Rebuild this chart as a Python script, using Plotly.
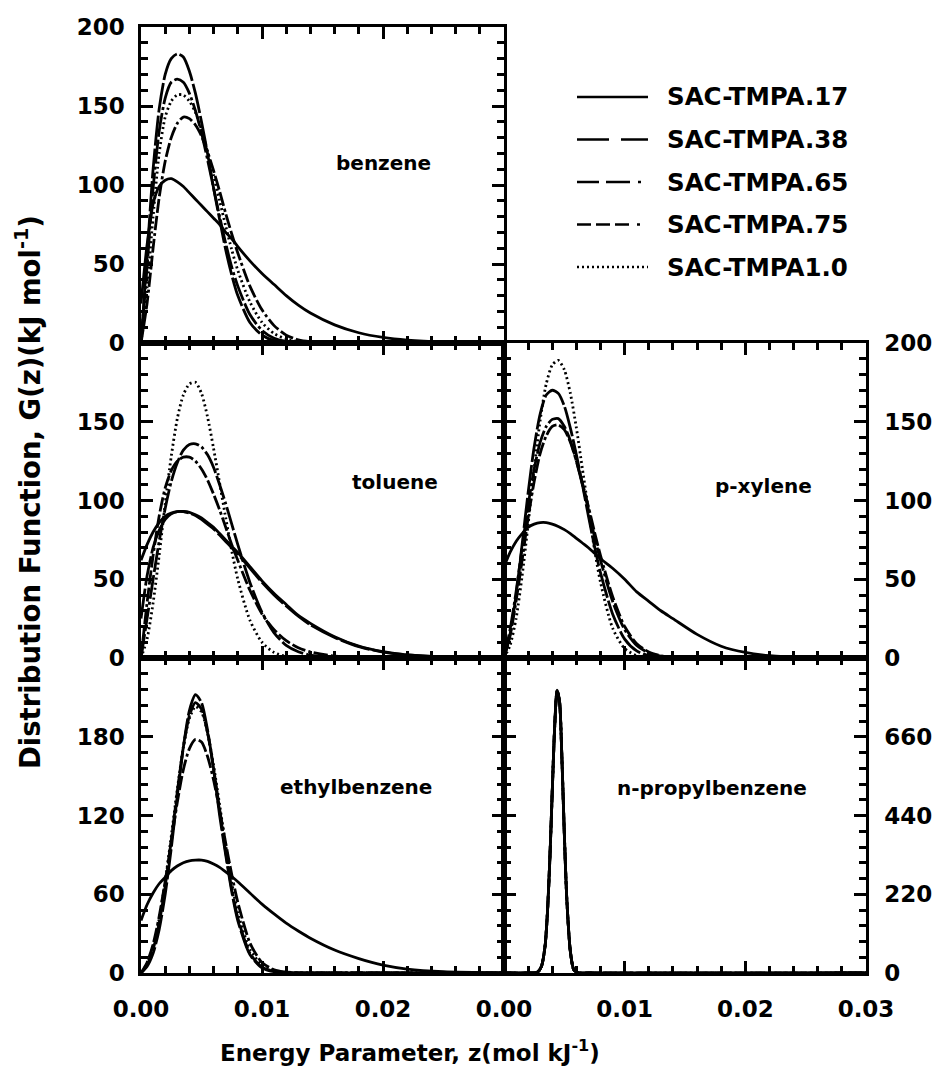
import plotly.graph_objects as go

# ---------------- data ----------------
series_names = ["SAC-TMPA.17", "SAC-TMPA.38", "SAC-TMPA.65", "SAC-TMPA.75", "SAC-TMPA1.0"]

z = [0, 0.0005, 0.001, 0.0015, 0.002, 0.0025, 0.003, 0.0035, 0.004, 0.0045,
     0.005, 0.0055, 0.006, 0.0065, 0.007, 0.0075, 0.008, 0.009, 0.010, 0.011,
     0.012, 0.013, 0.014, 0.016, 0.018, 0.020, 0.022, 0.025, 0.030]

benzene_17 = [25, 62, 88, 99, 103, 104, 102, 99, 95, 91, 87, 83, 79, 75, 70, 66, 61, 52, 44, 37,
              30, 24, 19, 11.5, 6.5, 3.5, 1.8, 0.6, 0.1]
benzene_38 = [0, 55, 110, 148, 170, 180, 183, 181, 172, 158, 140, 120, 98, 78, 59, 43, 30, 13, 5, 1.5,
              0.4, 0.1, 0, 0, 0, 0, 0, 0, 0]
benzene_65 = [0, 48, 98, 134, 155, 165, 167, 165, 158, 147, 133, 116, 98, 80, 63, 48, 36, 18, 8, 3,
              1, 0.3, 0.1, 0, 0, 0, 0, 0, 0]
benzene_75 = [0, 25, 60, 92, 115, 130, 139, 143, 142, 138, 131, 121, 109, 96, 82, 69, 57, 36, 21, 11,
              5, 2, 0.8, 0.1, 0, 0, 0, 0, 0]
benzene_10 = [0, 35, 80, 120, 143, 153, 157, 157, 153, 146, 135, 121, 106, 90, 74, 59, 46, 26, 13, 6,
              2.5, 1, 0.3, 0, 0, 0, 0, 0, 0]

toluene_17 = [62, 72, 80, 86, 90, 92, 93, 93, 92.5, 91, 89, 86, 83, 79, 75, 71, 67, 58, 49, 41,
              34, 27, 22, 13.5, 7.5, 4, 2, 0.7, 0.1]
toluene_38 = [25, 52, 70, 81, 88, 91.5, 93, 93, 92, 90.5, 88, 85, 82, 78, 74, 70, 66, 57, 48, 40,
              33, 26.5, 21, 13, 7.2, 3.8, 1.9, 0.7, 0.1]
toluene_65 = [0, 25, 50, 74, 95, 112, 124, 132, 135.5, 136, 134, 129, 121, 110, 98, 85, 72, 48, 29, 16,
              8, 4, 1.8, 0.4, 0.1, 0, 0, 0, 0]
toluene_75 = [0, 35, 65, 90, 108, 119, 125, 127.5, 127.5, 125, 120, 113, 104, 94, 83, 72, 62, 43, 28, 18,
              11, 6.5, 3.8, 1.2, 0.3, 0.1, 0, 0, 0]
toluene_10 = [0, 12, 35, 65, 98, 128, 152, 167, 174, 175, 168, 153, 133, 111, 89, 68, 50, 24, 10, 3.5,
              1, 0.3, 0, 0, 0, 0, 0, 0, 0]

pxylene_17 = [58, 67, 74, 79, 83, 85, 86, 86, 85, 83.5, 81.5, 79, 76, 73, 70, 66.5, 63, 57, 50, 42,
              36, 30, 25, 15, 7.5, 3.5, 1.5, 0.4, 0]
pxylene_38 = [0, 15, 40, 72, 105, 134, 155, 167, 170, 168, 160, 146, 129, 110, 90, 71, 54, 28, 12, 4.5,
              1.5, 0.4, 0.1, 0, 0, 0, 0, 0, 0]
pxylene_65 = [0, 18, 42, 70, 97, 120, 137, 147, 151.5, 152, 147, 138, 125, 110, 94, 77, 62, 36, 18, 8,
              3.2, 1.2, 0.4, 0, 0, 0, 0, 0, 0]
pxylene_75 = [0, 14, 36, 62, 89, 112, 130, 141, 147, 148, 145, 137, 125, 111, 96, 80, 65, 39, 20, 9,
              3.8, 1.4, 0.5, 0, 0, 0, 0, 0, 0]
pxylene_10 = [0, 8, 25, 52, 85, 120, 151, 174, 186, 189, 183, 168, 146, 120, 94, 69, 48, 19, 6, 1.5,
              0.3, 0, 0, 0, 0, 0, 0, 0, 0]

ethylbenzene_17 = [40, 52, 61, 68, 73, 78, 81.5, 84, 85.5, 86, 86, 85, 83, 80.5, 77, 73.5, 69.5, 61, 52.5, 45,
                   38, 32, 26.5, 17.5, 11, 6, 3, 1, 0.1]
ethylbenzene_38 = [0, 5, 15, 33, 60, 95, 135, 172, 200, 212, 206, 185, 155, 120, 90, 62, 40, 14, 4, 1,
                   0.2, 0, 0, 0, 0, 0, 0, 0, 0]
ethylbenzene_65 = [0, 6, 18, 38, 66, 101, 138, 172, 196, 206, 201, 183, 156, 124, 92, 64, 42, 15, 4.5, 1.2,
                   0.3, 0, 0, 0, 0, 0, 0, 0, 0]
ethylbenzene_75 = [0, 8, 22, 43, 70, 100, 130, 155, 171, 178, 176, 165, 147, 124, 99, 75, 54, 23, 8, 2.5,
                   0.7, 0.2, 0, 0, 0, 0, 0, 0, 0]
ethylbenzene_10 = [0, 7, 20, 41, 70, 104, 140, 172, 194, 203, 199, 183, 158, 128, 97, 69, 46, 18, 6, 1.7,
                   0.4, 0, 0, 0, 0, 0, 0, 0, 0]

# n-propylbenzene: all five curves coincide (one narrow peak)
z_npb = [0, 0.0020, 0.0025, 0.0028, 0.0031, 0.0034, 0.0036, 0.0038, 0.0040, 0.0042,
         0.0044, 0.0046, 0.0048, 0.0050, 0.0052, 0.0055, 0.0058, 0.0062, 0.0070, 0.030]
npb_17 = [0, 0, 0.5, 3, 18, 75, 170, 320, 510, 690, 790, 760, 600, 390, 210, 60, 8, 0.5, 0, 0]
npb_38 = [0, 0, 0.5, 3, 18, 74, 168, 318, 508, 688, 788, 758, 598, 388, 209, 60, 8, 0.5, 0, 0]
npb_65 = [0, 0, 0.5, 3, 18, 74, 168, 318, 508, 688, 788, 758, 598, 388, 209, 60, 8, 0.5, 0, 0]
npb_75 = [0, 0, 0.5, 3, 18, 74, 168, 318, 508, 688, 788, 758, 598, 388, 209, 60, 8, 0.5, 0, 0]
npb_10 = [0, 0, 0.5, 3, 18, 75, 170, 320, 510, 690, 790, 760, 600, 390, 210, 60, 8, 0.5, 0, 0]

x_major = [0, 0.01, 0.02, 0.03]
x_labels_left = ["0.00", "0.01", "0.02"]
x_labels_right = ["0.00", "0.01", "0.02", "0.03"]

panels = [
    # name, x axis, y axis, z data, series, y range, labelled y ticks, y tick texts, major step, minor step, side
    ("benzene", "x", "y", z, [benzene_17, benzene_38, benzene_65, benzene_75, benzene_10],
     [0, 200], [0, 50, 100, 150, 200], ["0", "50", "100", "150", "200"], 50, 10, "left"),
    ("toluene", "x2", "y2", z, [toluene_17, toluene_38, toluene_65, toluene_75, toluene_10],
     [0, 200], [0, 50, 100, 150], ["0", "50", "100", "150"], 50, 10, "left"),
    ("ethylbenzene", "x3", "y3", z,
     [ethylbenzene_17, ethylbenzene_38, ethylbenzene_65, ethylbenzene_75, ethylbenzene_10],
     [0, 240], [0, 60, 120, 180], ["0", "60", "120", "180"], 60, 12, "left"),
    ("p-xylene", "x4", "y4", z, [pxylene_17, pxylene_38, pxylene_65, pxylene_75, pxylene_10],
     [0, 200], [0, 50, 100, 150, 200], ["0", "50", "100", "150", "200"], 50, 10, "right"),
    ("n-propylbenzene", "x5", "y5", z_npb, [npb_17, npb_38, npb_65, npb_75, npb_10],
     [0, 880], [0, 220, 440, 660], ["0", "220", "440", "660"], 220, 44, "right"),
]

# ---------------- styling ----------------
W, H = 941, 1074
FONT = "DejaVu Sans"
curve_dash = ["solid", "30px,3px", "24px,3px,24px,3px,3px,3px",
              "14px,3px,14px,3px,14px,3px,3px,3px", "2px,3px"]
legend_dash = ["solid", "32px,12px", "22px,7px,24px,8px,3px,9px",
               "14px,5px,14px,5px,14px,8px,3px,9px", "2px,3px"]

def px(xp):
    return xp / W

def py(yp):
    return 1 - yp / H

XL, XM, XR = 141, 504, 866
YT, Y1, Y2, Y3 = 27, 343, 658, 973

domains = {
    "benzene": ([XL, XM], [Y1, YT]),
    "toluene": ([XL, XM], [Y2, Y1]),
    "ethylbenzene": ([XL, XM], [Y3, Y2]),
    "p-xylene": ([XM, XR], [Y2, Y1]),
    "n-propylbenzene": ([XM, XR], [Y3, Y2]),
}
label_pos = {
    "benzene": (0.0200, 114),
    "toluene": (0.0210, 112),
    "p-xylene": (0.0215, 109),
    "ethylbenzene": (0.0178, 142),
    "n-propylbenzene": (0.0172, 517),
}
bottom_panels = {"ethylbenzene": x_labels_left, "n-propylbenzene": x_labels_right}

fig = go.Figure()
layout = dict(width=W, height=H, autosize=False, margin=dict(l=0, r=0, t=0, b=0, autoexpand=False),
              paper_bgcolor="white", plot_bgcolor="white", showlegend=False,
              font=dict(family=FONT, color="black"))

tick_font = dict(family=FONT, size=23, color="black", weight="bold")
axis_common = dict(showline=True, linecolor="black", linewidth=2.5, mirror="ticks",
                   ticks="inside", ticklen=12, tickwidth=2.5, tickcolor="black",
                   showgrid=False, zeroline=False, fixedrange=True, automargin=False,
                   tickfont=tick_font)

annotations = []
for name, xa, ya, zz, curves, yr, yvals, ytext, ymaj, ymin, side in panels:
    for i, vals in enumerate(curves):
        fig.add_trace(go.Scatter(
            x=zz, y=vals, xaxis=xa, yaxis=ya, mode="lines", name=series_names[i],
            line=dict(color="black", width=2.8, dash=curve_dash[i], shape="spline", smoothing=0.7),
            hoverinfo="skip"))
    xd, yd = domains[name]
    xkey = "xaxis" + xa[1:]
    ykey = "yaxis" + ya[1:]
    xt = bottom_panels.get(name)
    xaxis = dict(axis_common, domain=[px(xd[0]), px(xd[1])], anchor=ya,
                 range=[0, 0.03], ticklabelstandoff=14,
                 minor=dict(ticks="inside", ticklen=7, tickwidth=2.5, tickcolor="black",
                            dtick=0.002, tick0=0, showgrid=False))
    if xt:
        xaxis.update(tickmode="array", tickvals=x_major[:len(xt)], ticktext=xt)
    else:
        xaxis.update(tickmode="linear", tick0=0, dtick=0.01, showticklabels=False)
    layout[xkey] = xaxis
    layout[ykey] = dict(axis_common, domain=[py(yd[0]), py(yd[1])], anchor=xa, side=side,
                        range=yr, tickmode="array", tickvals=yvals, ticktext=ytext,
                        ticklabelstandoff=9 if side == "left" else 11,
                        minor=dict(ticks="inside", ticklen=7, tickwidth=2.5, tickcolor="black",
                                   dtick=ymin, tick0=0, showgrid=False))
    lx, ly = label_pos[name]
    annotations.append(dict(x=lx, y=ly, xref=xa, yref=ya, text=name, showarrow=False,
                            xanchor="center", yanchor="middle",
                            font=dict(family=FONT, size=20, color="black", weight="bold")))

# legend (drawn in the empty upper-right cell)
legend_rows = [97, 139.5, 182, 224.5, 267]
shapes = []
for i, nm in enumerate(series_names):
    yy = py(legend_rows[i])
    shapes.append(dict(type="line", xref="paper", yref="paper", x0=px(577), x1=px(648),
                       y0=yy, y1=yy, line=dict(color="black", width=2.5, dash=legend_dash[i])))
    annotations.append(dict(x=px(665), y=yy, xref="paper", yref="paper", text=nm,
                            showarrow=False, xanchor="left", yanchor="middle",
                            font=dict(family=FONT, size=24.5, color="black", weight="bold")))

annotations.append(dict(x=px(28), y=py(492), xref="paper", yref="paper", textangle=-90,
                        text="Distribution Function, G(z)(kJ mol<sup>-1</sup>)", showarrow=False,
                        xanchor="center", yanchor="middle",
                        font=dict(family=FONT, size=27.5, color="black", weight="bold")))
annotations.append(dict(x=px(410), y=py(1051), xref="paper", yref="paper",
                        text="Energy Parameter, z(mol kJ<sup>-1</sup>)", showarrow=False,
                        xanchor="center", yanchor="middle",
                        font=dict(family=FONT, size=23, color="black", weight="bold")))

layout["annotations"] = annotations
layout["shapes"] = shapes
fig.update_layout(**layout)
fig.write_html("out.html")
